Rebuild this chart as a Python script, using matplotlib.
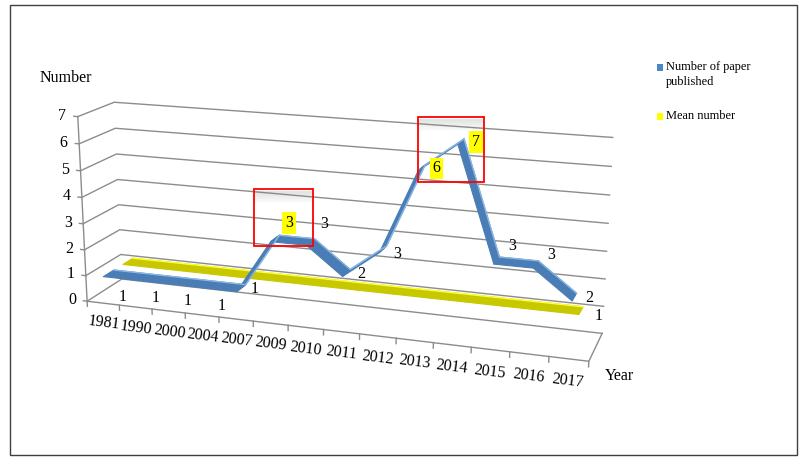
import matplotlib
matplotlib.use('Agg')
import matplotlib.pyplot as plt
import numpy as np
from mpl_toolkits.mplot3d import proj3d
from mpl_toolkits.mplot3d.art3d import Poly3DCollection
from matplotlib.patches import Rectangle

plt.rcParams['font.family'] = ['Liberation Serif', 'DejaVu Serif']

# data
years = ['1981', '1990', '2000', '2004', '2007', '2009', '2010',
         '2011', '2012', '2013', '2014', '2015', '2016', '2017']
papers = [1, 1, 1, 1, 1, 3, 3, 2, 3, 6, 7, 3, 3, 2]
mean_number = [1] * 14
y_ticks = [0, 1, 2, 3, 4, 5, 6, 7]
highlight = ['2009', '2013', '2014']

# label nudges (value units), purely cosmetic
label_dz = [-0.9, -0.8, -0.75, -0.8, 0, 0.6, 0.7, 0, -0.15, 0, 0, 0.55, 0.35, 0]

W, H = 800, 462
fig = plt.figure(figsize=(W / 100, H / 100), dpi=100)
side = 700
cx, cy = 327, 233
ax = fig.add_axes([(cx - side / 2) / W, (H - cy - side / 2) / H, side / W, side / H],
                  projection='3d', computed_zorder=False)
ax.patch.set_alpha(0)
ax.set_proj_type('persp', focal_length=0.38)
ax.view_init(elev=16, azim=-71)
n = len(years)
x0, x1 = -0.5, n - 0.5
y0, y1 = 0.0, 1.0
ax.set_xlim(x0, x1)
ax.set_ylim(y0, y1)
ax.set_zlim(0, 7)
ax.set_box_aspect((14, 2.1, 5.25), zoom=1.2 * 460 / side)
ax.set_axis_off()
M = ax.get_proj()


def put(x, y, z, s, **kw):
    px, py, _ = proj3d.proj_transform(x, y, z, M)
    ax.text2D(px, py, s, transform=ax.transData, **kw)


grid_c = '#8c8c8c'
# walls: gridlines on the left and back walls
for k in y_ticks:
    ax.plot([x0, x0, x1], [y0, y1, y1], [k, k, k], color=grid_c, lw=1.0, zorder=1)
    ax.plot([x0 - 0.12, x0], [y0, y0], [k, k], color=grid_c, lw=1.0, zorder=1)
    put(x0 - 0.35, y0, k, str(k), ha='right', va='center', fontsize=11.5, zorder=5)
ax.plot([x0, x0], [y0, y0], [0, 7], color=grid_c, lw=1.0, zorder=1)
# floor edges
ax.plot([x0, x1, x1], [y0, y0, y1], [0, 0, 0], color=grid_c, lw=1.0, zorder=1)
for i in range(n + 1):
    ax.plot([x0 + i, x0 + i], [y0, y0], [0, -0.2], color=grid_c, lw=1.0, zorder=1)
for i, yr in enumerate(years):
    put(i, y0, -0.8, yr, ha='center', va='center', rotation=-7, fontsize=11.5, zorder=5)


def ribbon(vals, ya, yb, face, light, z):
    xs = np.arange(len(vals))
    polys = []
    for i in range(len(vals) - 1):
        polys.append([(xs[i], ya, vals[i]), (xs[i + 1], ya, vals[i + 1]),
                      (xs[i + 1], yb, vals[i + 1]), (xs[i], yb, vals[i])])
    pc = Poly3DCollection(polys, facecolor=face, edgecolor=face, linewidths=0.8, zorder=z)
    ax.add_collection3d(pc)
    ax.plot(xs, [yb] * len(vals), vals, color=light, lw=1.0, zorder=z + 0.1)


ribbon(mean_number, 0.6, 0.9, '#c8c800', '#ffff33', 2)
ribbon(papers, 0.04, 0.34, '#4a7db5', '#8ab8e4', 3)

# data labels
for i, v in enumerate(papers):
    kw = {}
    if years[i] in highlight:
        kw['bbox'] = dict(facecolor='#ffff00', edgecolor='none', pad=2)
    put(i + 0.28, 0.2, v + label_dz[i], str(v), ha='left', va='center',
        fontsize=11.5, zorder=6, **kw)
put(n - 1 + 0.35, 0.75, mean_number[-1] - 0.15, str(mean_number[-1]), ha='left', va='center',
    fontsize=11.5, zorder=6)

# red highlight boxes (pixel coordinates of the picture)
for (l, t, r, b) in [(254, 189, 313, 246), (418, 117, 484, 182)]:
    for j in range(6):
        fig.add_artist(Rectangle(((l + 1) / W, (H - t - 2 - 2 * j - 2) / H), (r - l - 2) / W, 2 / H,
                                 transform=fig.transFigure, facecolor='#808080',
                                 alpha=0.22 * (1 - j / 6), edgecolor='none', zorder=7))
    fig.add_artist(Rectangle((l / W, (H - b) / H), (r - l) / W, (b - t) / H,
                             transform=fig.transFigure, facecolor='none',
                             edgecolor='#ff0000', lw=1.3, zorder=8))

# axis titles
fig.text(40 / W, 1 - 78 / H, 'Number', fontsize=11.5, va='center', ha='left')
fig.text(605 / W, 1 - 376 / H, 'Year', fontsize=11.5, va='center', ha='left')

# legend
fig.add_artist(Rectangle((657 / W, 1 - 71 / H), 6 / W, 7 / H, transform=fig.transFigure,
                         facecolor='#4a86c8', edgecolor='none'))
fig.text(666 / W, 1 - 67 / H, 'Number of paper', fontsize=8.9, va='center', ha='left')
fig.text(666 / W, 1 - 82 / H, 'published', fontsize=8.9, va='center', ha='left')
fig.add_artist(Rectangle((657 / W, 1 - 120 / H), 6 / W, 7 / H, transform=fig.transFigure,
                         facecolor='#ffff00', edgecolor='none'))
fig.text(666 / W, 1 - 116 / H, 'Mean number', fontsize=8.9, va='center', ha='left')

# outer frame
fig.add_artist(Rectangle((10 / W, 1 - 455 / H), 787 / W, 450 / H, transform=fig.transFigure,
                         facecolor='none', edgecolor='#404040', lw=1.0))

fig.savefig('out.png', dpi=100)
